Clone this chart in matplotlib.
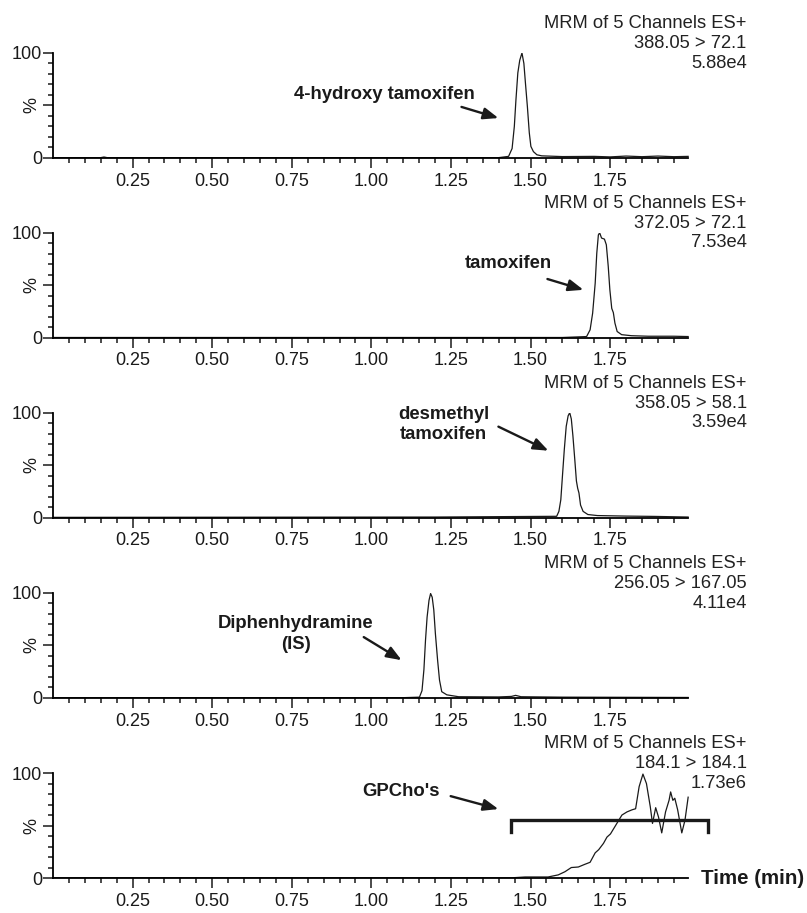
import numpy as np
import matplotlib
matplotlib.use('Agg')
from matplotlib import pyplot as plt
from matplotlib.ticker import FixedLocator

plt.rcParams['font.family'] = ['Liberation Sans', 'DejaVu Sans']

# chromatogram traces (time in min, relative intensity %)
t_hydroxy = [0.0, 0.15, 0.16, 0.17, 1.40, 1.431, 1.442, 1.449, 1.454, 1.460, 1.466, 1.473,
             1.479, 1.484, 1.490, 1.496, 1.501, 1.509, 1.520, 1.535, 1.6, 1.7, 1.75, 1.8,
             1.85, 1.9, 1.95, 1.995]
i_hydroxy = [0.3, 0.3, 0.9, 0.3, 0.3, 1.5, 9, 30, 55, 81, 93, 100,
             90, 71, 49, 24, 11, 6, 3, 2, 1.3, 1.5, 1.0, 1.8,
             1.2, 1.8, 1.2, 1.5]

t_tamox = [0.0, 1.60, 1.676, 1.687, 1.695, 1.703, 1.708, 1.713, 1.717, 1.723, 1.732, 1.738,
           1.744, 1.749, 1.755, 1.760, 1.765, 1.772, 1.786, 1.817, 1.87, 1.95, 1.995]
i_tamox = [0.3, 0.3, 1.2, 7.6, 23.5, 52, 80.6, 98, 100, 95, 94, 88.6,
           68, 46, 28, 24, 14, 6, 3, 2, 1.5, 1.5, 1.2]

t_desmethyl = [0.0, 1.2, 1.582, 1.589, 1.595, 1.600, 1.606, 1.612, 1.618, 1.623, 1.628,
               1.633, 1.639, 1.644, 1.648, 1.652, 1.657, 1.665, 1.680, 1.71, 1.80, 1.89,
               1.995]
i_desmethyl = [0.3, 0.6, 1.3, 6, 17, 39, 65, 87, 97, 100, 94,
               78, 55, 35, 28, 23.5, 12, 6, 3, 2, 1.5, 1.2,
               0.6]

t_diphen = [0.0, 1.10, 1.151, 1.159, 1.165, 1.170, 1.175, 1.181, 1.186, 1.191, 1.196,
            1.201, 1.208, 1.214, 1.221, 1.237, 1.274, 1.40, 1.44, 1.453, 1.47, 1.60, 1.995]
i_diphen = [0.3, 0.3, 0.8, 7, 27, 55, 77, 93, 99.5, 96, 84,
            61.5, 36, 17, 6, 3, 1.2, 1, 1.5, 2.5, 1.2, 0.8, 0.5]

t_gpcho = [0.0, 1.44, 1.483, 1.555, 1.587, 1.608, 1.628, 1.65, 1.67, 1.687, 1.703,
           1.714, 1.729, 1.74, 1.751, 1.767, 1.777, 1.787, 1.803, 1.819, 1.83, 1.841,
           1.853, 1.864, 1.876, 1.883, 1.893, 1.902, 1.912, 1.924, 1.935, 1.94, 1.947,
           1.953, 1.962, 1.975, 1.985, 1.995]
i_gpcho = [0.2, 0.2, 1, 1, 3, 6, 10, 10.5, 13, 15, 24,
           27, 33, 39, 42, 50, 55, 60, 63, 65, 66, 87,
           99, 90, 68, 52, 67, 58, 43, 63, 74, 82, 74,
           76, 65, 43, 55, 77]

headers = ['MRM of 5 Channels ES+\n388.05 > 72.1\n5.88e4',
           'MRM of 5 Channels ES+\n372.05 > 72.1\n7.53e4',
           'MRM of 5 Channels ES+\n358.05 > 58.1\n3.59e4',
           'MRM of 5 Channels ES+\n256.05 > 167.05\n4.11e4',
           'MRM of 5 Channels ES+\n184.1 > 184.1\n1.73e6']

labels = ["4-hydroxy tamoxifen", "tamoxifen", "desmethyl\ntamoxifen",
          "Diphenhydramine\n(IS)", "GPCho's"]
# (text x, text y, arrow tail x, tail y, head x, head y) in data units
label_pos = [(1.042, 60, 1.283, 48.6, 1.399, 38),
             (1.431, 71, 1.553, 56, 1.666, 45.7),
             (1.227, 89, 1.399, 86.7, 1.556, 63.8),
             (0.763, 61, 0.976, 58, 1.095, 36),
             (1.092, 82, 1.249, 78, 1.399, 65.7)]

traces = [(t_hydroxy, i_hydroxy), (t_tamox, i_tamox), (t_desmethyl, i_desmethyl),
          (t_diphen, i_diphen), (t_gpcho, i_gpcho)]

fig = plt.figure(figsize=(8.07, 9.13), dpi=100)
bottoms = [0.827, 0.630, 0.433, 0.2355, 0.0383]
ink = '#1a1a1a'

axes = []
for k in range(5):
    ax = fig.add_axes([0.0657, bottoms[k], 0.789, 0.115])
    t, y = traces[k]
    ax.plot(t, y, color=ink, lw=0.9)
    ax.set_xlim(0, 2.0)
    ax.set_ylim(0, 100)
    ax.spines['top'].set_visible(False)
    ax.spines['right'].set_visible(False)
    ax.spines['left'].set_linewidth(1.3)
    ax.spines['bottom'].set_linewidth(1.3)
    ax.spines['bottom'].set_bounds(0, 1.995)
    ax.xaxis.set_major_locator(FixedLocator([0.25, 0.5, 0.75, 1.0, 1.25, 1.5, 1.75]))
    ax.xaxis.set_minor_locator(FixedLocator(np.arange(0.05, 1.96, 0.05)))
    ax.set_xticklabels(['0.25', '0.50', '0.75', '1.00', '1.25', '1.50', '1.75'])
    ax.yaxis.set_major_locator(FixedLocator([0, 50, 100]))
    ax.yaxis.set_minor_locator(FixedLocator(np.arange(10, 100, 10)))
    ax.set_yticklabels(['0', '', '100'])
    ax.tick_params(which='major', direction='out', length=7, width=1.1, labelsize=13,
                   colors=ink)
    ax.tick_params(which='minor', direction='out', length=3.5, width=1.1, colors=ink)
    ax.tick_params(axis='x', which='major', pad=3.5)
    ax.tick_params(axis='y', which='major', pad=1)
    ax.text(-0.033, 0.5, '%', transform=ax.transAxes, rotation=90, ha='center',
            va='center', fontsize=13, color=ink)
    ax.text(1.0895, 1.09, headers[k], transform=ax.transAxes, ha='right', va='center',
            multialignment='right', fontsize=13.2, color='#222222', linespacing=1.2)
    tx, ty, ax0, ay0, hx, hy = label_pos[k]
    ax.text(tx, ty, labels[k], ha='center', va='center', fontsize=13.3, fontweight='bold',
            color=ink, linespacing=1.25)
    ax.annotate('', xy=(hx, hy), xytext=(ax0, ay0),
                arrowprops=dict(arrowstyle='-|>,head_length=0.9,head_width=0.35',
                                color=ink, lw=1.7, shrinkA=0, shrinkB=0))
    axes.append(ax)

# bracket marking the GPCho's region
ax = axes[4]
ax.plot([1.44, 1.44, 2.058, 2.058], [43.8, 55.2, 55.2, 43.8], color=ink, lw=2.4,
        clip_on=False, solid_joinstyle='miter')
ax.text(2.036, 0, 'Time (min)', ha='left', va='center', fontsize=14.8, fontweight='bold',
        color=ink)

fig.savefig('out.png', dpi=100)
